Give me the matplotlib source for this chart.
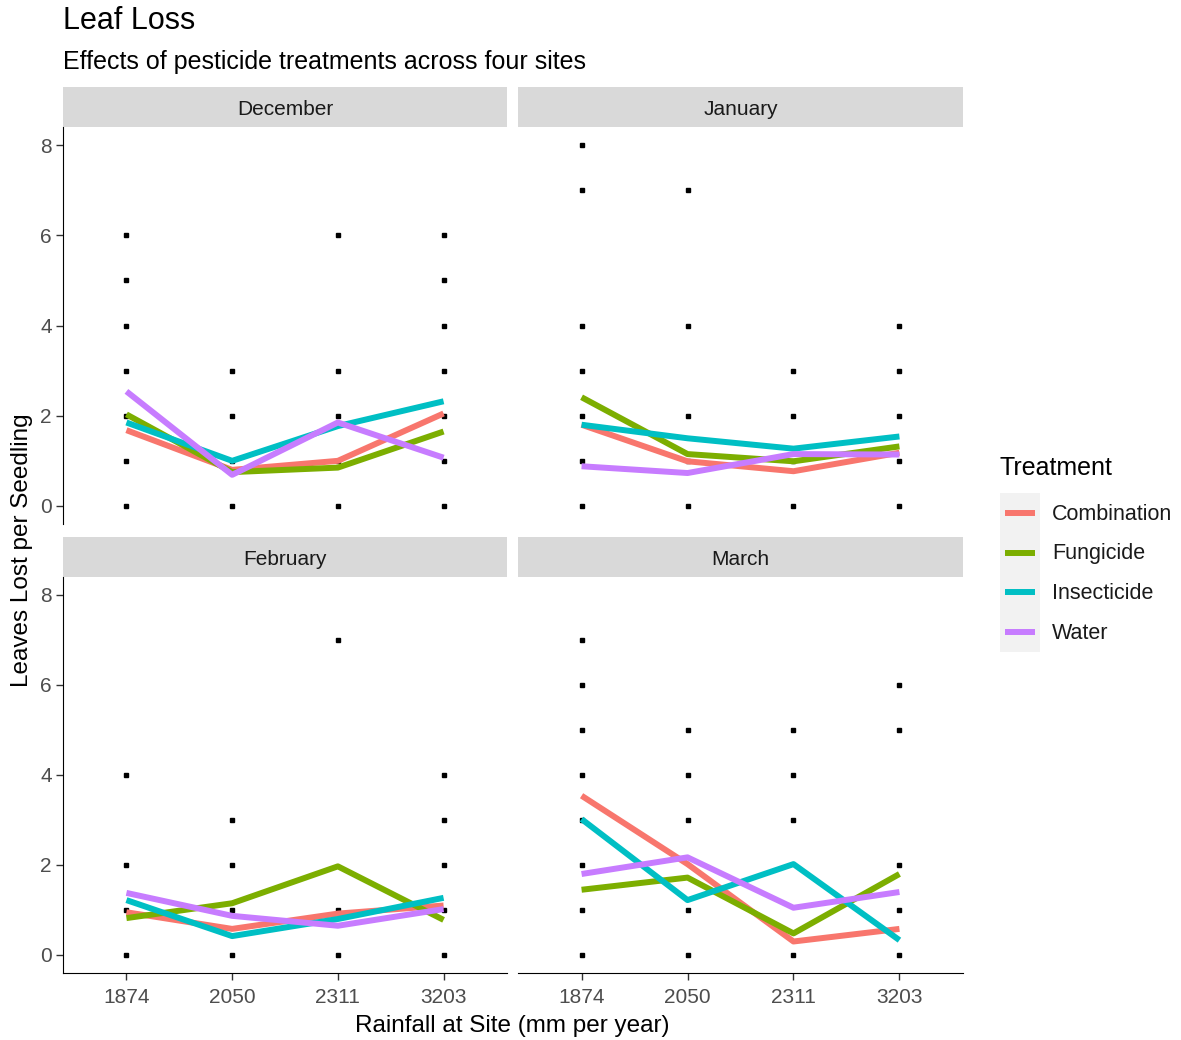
import numpy as np
import matplotlib.pyplot as plt

plt.rcParams['font.family'] = ['Liberation Sans', 'DejaVu Sans']

# Sites (x categories), months (facets) and treatments
sites = ["1874", "2050", "2311", "3203"]
months = ["December", "January", "February", "March"]
treatments = ["Combination", "Fungicide", "Insecticide", "Water"]
colors = ["#F8766D", "#7CAE00", "#00BFC4", "#C77CFF"]

# Mean leaves lost per seedling, per month: one list per treatment (sites in order)
dec_means = [[1.68, 0.80, 1.00, 2.05],
             [2.03, 0.75, 0.85, 1.65],
             [1.85, 1.00, 1.77, 2.32],
             [2.54, 0.69, 1.85, 1.07]]
jan_means = [[1.80, 0.99, 0.77, 1.18],
             [2.41, 1.15, 0.99, 1.32],
             [1.80, 1.50, 1.27, 1.54],
             [0.88, 0.73, 1.15, 1.14]]
feb_means = [[0.95, 0.58, 0.92, 1.10],
             [0.82, 1.15, 1.97, 0.78],
             [1.22, 0.42, 0.80, 1.27],
             [1.38, 0.87, 0.65, 1.02]]
mar_means = [[3.54, 2.02, 0.30, 0.58],
             [1.45, 1.72, 0.48, 1.80],
             [3.02, 1.22, 2.02, 0.33],
             [1.80, 2.17, 1.05, 1.40]]
all_means = [dec_means, jan_means, feb_means, mar_means]

# Observed counts (distinct values) at each site, per month
dec_obs = [[0, 1, 2, 3, 4, 5, 6], [0, 1, 2, 3], [0, 1, 2, 3, 6], [0, 1, 2, 3, 4, 5, 6]]
jan_obs = [[0, 1, 2, 3, 4, 7, 8], [0, 1, 2, 4, 7], [0, 1, 2, 3], [0, 1, 2, 3, 4]]
feb_obs = [[0, 1, 2, 4], [0, 1, 2, 3], [0, 1, 7], [0, 1, 2, 3, 4]]
mar_obs = [[0, 1, 2, 3, 4, 5, 6, 7], [0, 1, 3, 4, 5], [0, 3, 4, 5], [0, 1, 2, 5, 6]]
all_obs = [dec_obs, jan_obs, feb_obs, mar_obs]

W, H = 1181, 1040
fig = plt.figure(figsize=(W / 100, H / 100), dpi=100)


def box(x0, y0, x1, y1):
    # pixel box (top-left origin) -> figure fraction
    return [x0 / W, 1 - y1 / H, (x1 - x0) / W, (y1 - y0) / H]


panel_x = [(63, 507), (518, 963)]
panel_y = [(127, 524), (577, 973)]
strip_h = 40
tick_col = "#4d4d4d"

for i, month in enumerate(months):
    r, c = divmod(i, 2)
    x0, x1 = panel_x[c]
    y0, y1 = panel_y[r]

    # strip
    sax = fig.add_axes(box(x0, y0 - strip_h, x1, y0))
    sax.set_facecolor("#d9d9d9")
    sax.set_xticks([])
    sax.set_yticks([])
    for sp in sax.spines.values():
        sp.set_visible(False)
    sax.text(0.5, 0.44, month, ha="center", va="center", fontsize=15, color="#1a1a1a")

    ax = fig.add_axes(box(x0, y0, x1, y1))
    xs = np.arange(1, len(sites) + 1)
    for k, vals in enumerate(all_obs[i]):
        ax.plot([xs[k]] * len(vals), vals, ls="none", marker="s", ms=2.2,
                color="black", zorder=2)
    for t, name in enumerate(treatments):
        ax.plot(xs, all_means[i][t], color=colors[t], lw=4.3,
                solid_capstyle="butt", zorder=3, label=name)

    ax.set_xlim(0.4, 4.6)
    ax.set_ylim(-0.4, 8.4)
    ax.set_xticks(xs)
    ax.set_yticks([0, 2, 4, 6, 8])
    for sp in ["top", "right"]:
        ax.spines[sp].set_visible(False)
    ax.spines["left"].set_visible(c == 0)
    ax.spines["bottom"].set_visible(r == 1)
    ax.tick_params(axis="both", labelsize=15, labelcolor=tick_col, color="#333333",
                   length=5, width=1, pad=3)
    ax.tick_params(axis="x", pad=6)
    if c == 0:
        ax.set_yticklabels(["0", "2", "4", "6", "8"])
    else:
        ax.tick_params(axis="y", left=False, labelleft=False)
    if r == 1:
        ax.set_xticklabels(sites)
    else:
        ax.tick_params(axis="x", bottom=False, labelbottom=False)
    ax.patch.set_visible(False)

# titles
fig.text(63 / W, 1 - 29 / H, "Leaf Loss", fontsize=22, color="black", va="baseline")
fig.text(63 / W, 1 - 69 / H, "Effects of pesticide treatments across four sites",
         fontsize=18, color="black", va="baseline")
fig.text(512 / W, 1 - 1026 / H, "Rainfall at Site (mm per year)", fontsize=17.5,
         ha="center", va="center")
fig.text(22 / W, 1 - 550 / H, "Leaves Lost per Seedling", fontsize=17.5,
         rotation=90, ha="center", va="center")

# legend
fig.text(1000 / W, 1 - 468 / H, "Treatment", fontsize=18, va="center")
lax = fig.add_axes(box(1000, 493, 1040, 652))
lax.set_facecolor("#f2f2f2")
lax.set_xlim(0, 1)
lax.set_ylim(len(treatments), 0)
lax.set_xticks([])
lax.set_yticks([])
for sp in lax.spines.values():
    sp.set_visible(False)
for t, name in enumerate(treatments):
    lax.plot([0.12, 0.88], [t + 0.5, t + 0.5], color=colors[t], lw=4.3,
             solid_capstyle="butt")
    fig.text(1052 / W, 1 - (514 + t * 39.7) / H, name, fontsize=15.5,
             color="#1a1a1a", va="center")

fig.savefig("out.png", dpi=100)
